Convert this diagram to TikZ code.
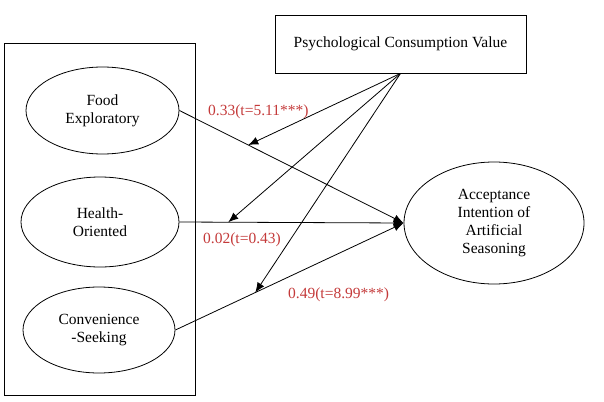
\documentclass[tikz,border=0pt]{standalone}
\usepackage{fontspec}
\setmainfont{Liberation Serif}
\usetikzlibrary{arrows.meta,calc,shapes.geometric}
\definecolor{lblred}{RGB}{196,58,58}
\begin{document}
\begin{tikzpicture}[x=1pt,y=-1pt,
  every node/.style={font=\fontsize{15.5}{18}\selectfont},
  lat/.style={draw,ellipse,line width=0.8pt,inner sep=0pt,align=center},
  conn/.style={draw,line width=0.8pt,-{Latex[length=10pt,width=8pt]}},
  coef/.style={text=lblred,anchor=west,inner sep=0pt}]
\useasboundingbox (0,0) rectangle (604,401);
\draw[line width=0.8pt] (4,43) rectangle (195,395);
\node[draw,line width=0.8pt,minimum width=251pt,minimum height=58pt,inner sep=0pt] (pcv) at (400.5,44) {Psychological Consumption Value};
\node[lat,minimum width=153pt,minimum height=87pt] (food) at (102.5,110.5) {Food\\Exploratory};
\node[lat,minimum width=158pt,minimum height=90pt] (health) at (100,222) {Health-\\Oriented};
\node[lat,minimum width=152pt,minimum height=86pt] (conv) at (99,330) {Convenience\\-Seeking};
\node[lat,minimum width=180pt,minimum height=122pt] (acc) at (494,223) {Acceptance\\Intention of\\Artificial\\Seasoning};
\draw[conn] (food.east) -- (acc.west);
\draw[conn] (health.east) -- (acc.west);
\draw[conn] (conv.east) -- (acc.west);
\coordinate (m1) at ($(food.east)!0.307!(acc.west)$);
\coordinate (m2) at ($(health.east)!0.218!(acc.west)$);
\coordinate (m3) at ($(conv.east)!0.35!(acc.west)$);
\draw[conn] (pcv.south) -- (m1);
\draw[conn] (pcv.south) -- (m2);
\draw[conn] (pcv.south) -- (m3);
\node[coef] (l1) at (208,112) {0.33(t=5.11***)};
\node[coef] (l2) at (203,240) {0.02(t=0.43)};
\node[coef] (l3) at (288,295) {0.49(t=8.99***)};
\end{tikzpicture}
\end{document}
